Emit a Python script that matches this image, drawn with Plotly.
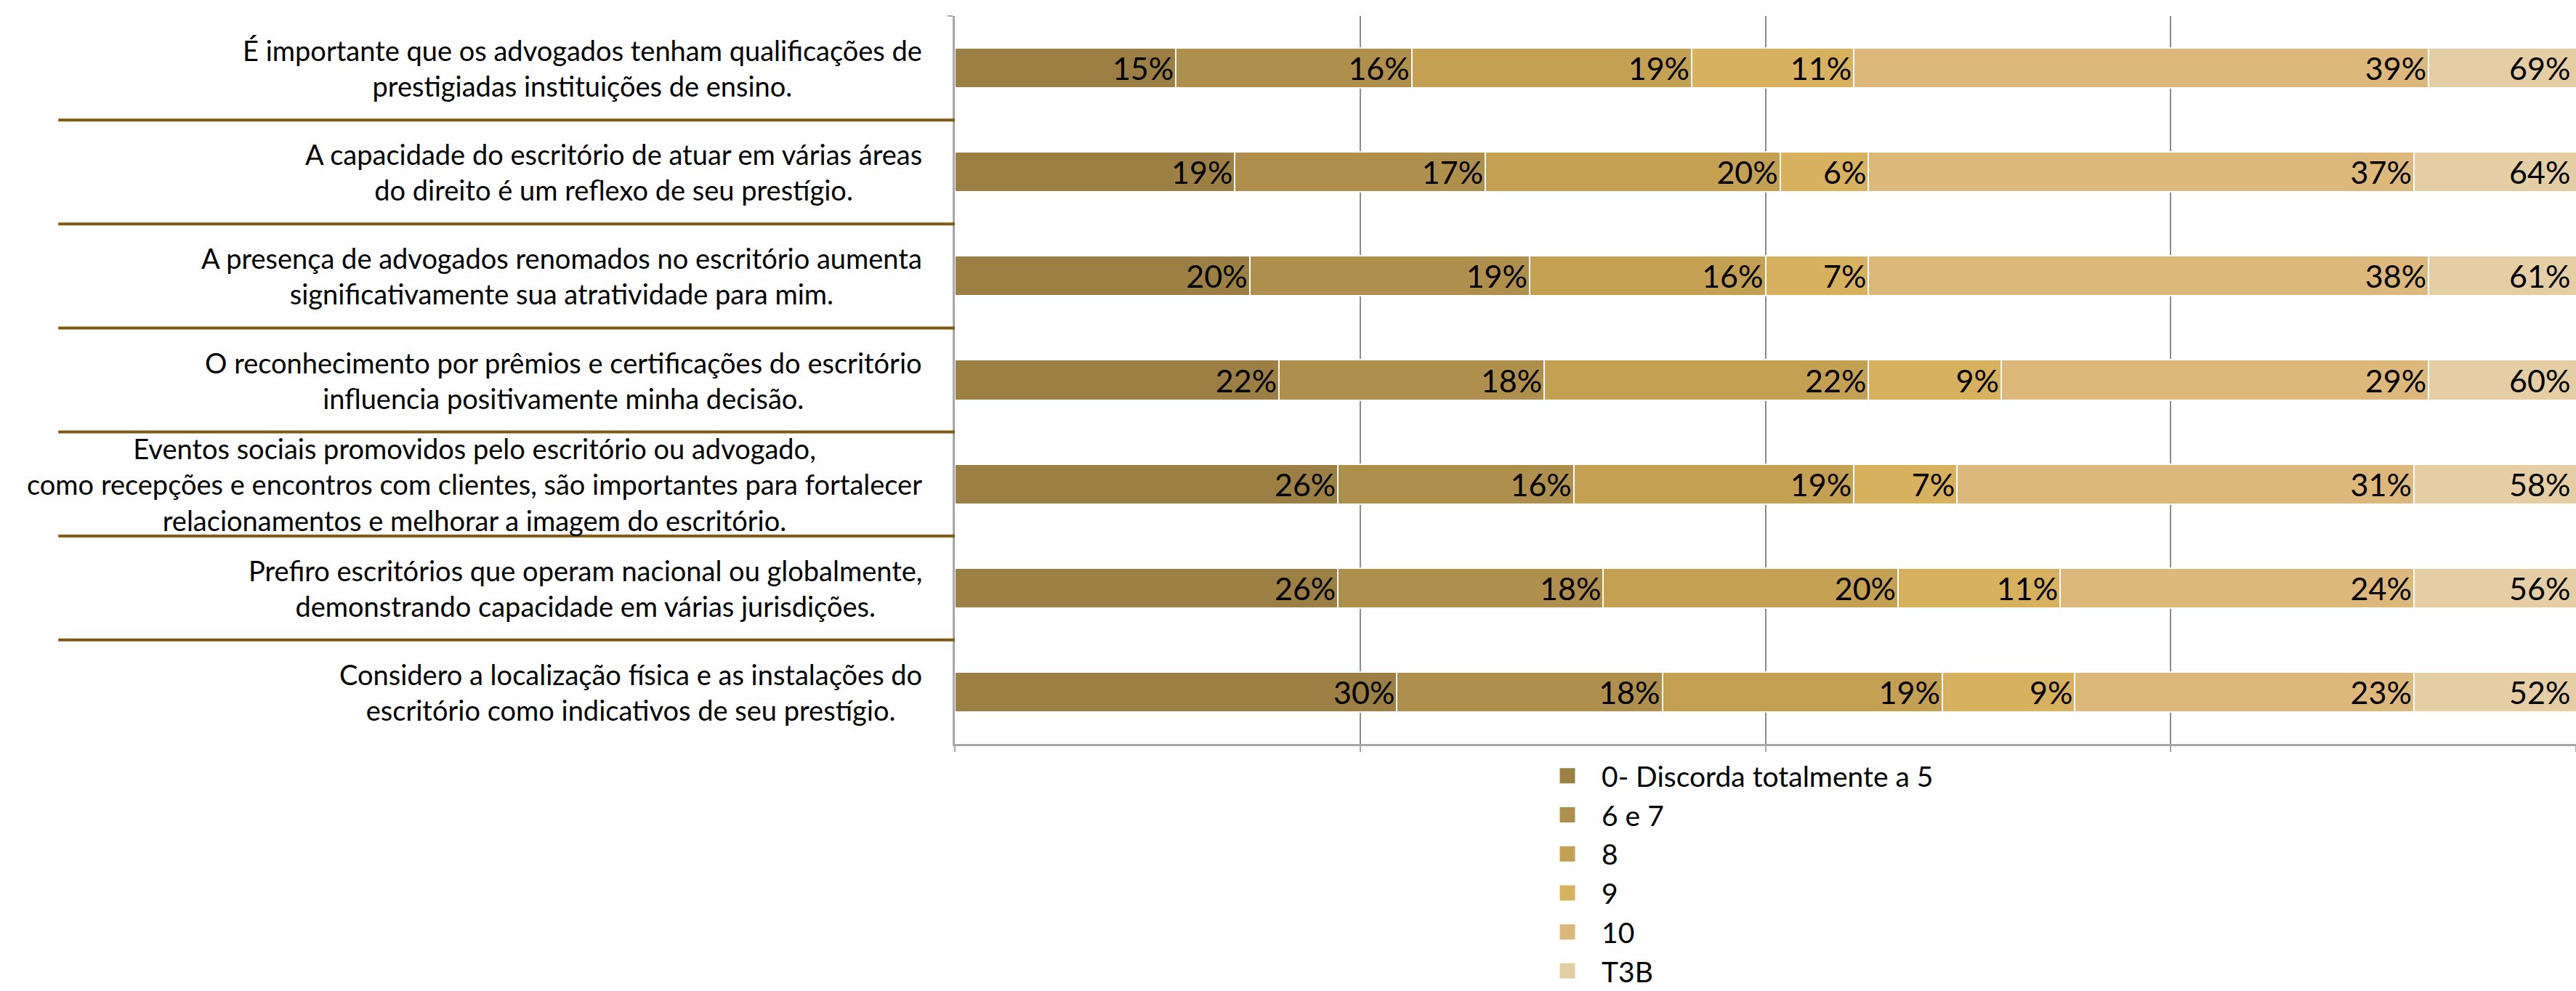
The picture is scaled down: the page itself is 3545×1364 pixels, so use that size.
import plotly.graph_objects as go

# Survey statements (one row each), response bands and their shares in %
statements = [
    "É importante que os advogados tenham qualificações de<br>prestigiadas instituições de ensino.",
    "A capacidade do escritório de atuar em várias áreas<br>do direito é um reflexo de seu prestígio.",
    "A presença de advogados renomados no escritório aumenta<br>significativamente sua atratividade para mim.",
    "O reconhecimento por prêmios e certificações do escritório<br>influencia positivamente minha decisão.",
    "Eventos sociais promovidos pelo escritório ou advogado,<br>como recepções e encontros com clientes, são importantes para fortalecer<br>relacionamentos e melhorar a imagem do escritório.",
    "Prefiro escritórios que operam nacional ou globalmente,<br>demonstrando capacidade em várias jurisdições.",
    "Considero a localização física e as instalações do<br>escritório como indicativos de seu prestígio.",
]

series_names = ["0- Discorda totalmente a 5", "6 e 7", "8", "9", "10", "T3B"]

discorda_0_5 = [15, 19, 20, 22, 26, 26, 30]
nota_6_7 = [16, 17, 19, 18, 16, 18, 18]
nota_8 = [19, 20, 16, 22, 19, 20, 19]
nota_9 = [11, 6, 7, 9, 7, 11, 9]
nota_10 = [39, 37, 38, 29, 31, 24, 23]
t3b = [69, 64, 61, 60, 58, 56, 52]

series_values = [discorda_0_5, nota_6_7, nota_8, nota_9, nota_10, t3b]
colors = ["#9C8043", "#AF8F4C", "#C4A052", "#D8B15E", "#DCB97A", "#E5CDA4"]

FONT = "Lato, 'Open Sans', Arial, sans-serif"
X_MAX = 110
grid_vals = [0, 27.5, 55, 82.5, 110]

fig = go.Figure()
for name, vals, col in zip(series_names, series_values, colors):
    is_total = name == "T3B"
    fig.add_trace(go.Bar(
        name=name,
        legendgroup=name,
        showlegend=False,
        y=statements,
        x=vals,
        orientation="h",
        marker=dict(color=col, line=dict(color="#FFFFFF", width=2)),
        text=None if is_total else [f"{v}%" for v in vals],
        textposition="none" if is_total else "inside",
        insidetextanchor="end",
        constraintext="none",
        textangle=0,
        textfont=dict(family=FONT, size=43, color="#000000"),
        hoverinfo="name+x",
    ))

# legend entries drawn as solid squares
for name, col in zip(series_names, colors):
    fig.add_trace(go.Scatter(
        name=name, legendgroup=name, showlegend=True,
        x=[None], y=[None], mode="markers",
        marker=dict(symbol="square", size=16, color=col,
                    line=dict(color=col, width=5)),
        hoverinfo="skip",
    ))

annotations = []
# statement labels: centred lines, right-aligned block left of the axis
for s in statements:
    annotations.append(dict(
        x=-0.0193, xref="paper", y=s, yref="y",
        text=s, showarrow=False, xanchor="right", yanchor="middle",
        align="center", font=dict(family=FONT, size=38, color="#000000"),
    ))
# T3B values sit at the right edge, where the running bar is cut off
for s, v in zip(statements, t3b):
    annotations.append(dict(
        x=X_MAX, xref="x", y=s, yref="y",
        text=f"{v}%", showarrow=False, xanchor="right", yanchor="middle",
        xshift=-6, font=dict(family=FONT, size=43, color="#000000"),
    ))

# brown rules separating the statements
shapes = []
for k in range(len(statements) - 1):
    shapes.append(dict(
        type="line", xref="paper", yref="y",
        x0=-0.553, x1=0, y0=k + 0.5, y1=k + 0.5,
        line=dict(color="#7F5A12", width=4), layer="above",
    ))

fig.update_layout(
    width=3545, height=1364,
    margin=dict(l=1314, r=0, t=22, b=340, pad=0, autoexpand=False),
    barmode="stack",
    bargap=0.615,
    paper_bgcolor="#FFFFFF",
    plot_bgcolor="#FFFFFF",
    font=dict(family=FONT, color="#000000"),
    showlegend=True,
    legend=dict(
        orientation="v", traceorder="normal",
        x=0.3568, xanchor="left", y=-0.012, yanchor="top",
        itemwidth=84, itemsizing="trace",
        font=dict(family=FONT, size=39, color="#000000"),
        bgcolor="rgba(0,0,0,0)",
    ),
    annotations=annotations,
    shapes=shapes,
    xaxis=dict(
        range=[0, X_MAX], tickvals=grid_vals, showticklabels=False,
        showgrid=True, gridcolor="#8C8C8C", gridwidth=2,
        showline=True, linecolor="#A6A6A6", linewidth=3,
        ticks="outside", ticklen=8, tickcolor="#A6A6A6", tickwidth=2,
        zeroline=False, fixedrange=True,
    ),
    yaxis=dict(
        autorange="reversed", showticklabels=False,
        showline=True, linecolor="#A6A6A6", linewidth=3,
        ticks="outside", tickson="boundaries", ticklen=7,
        tickcolor="#A6A6A6", tickwidth=2,
        showgrid=False, zeroline=False, fixedrange=True,
    ),
)

fig.write_html("out.html")
